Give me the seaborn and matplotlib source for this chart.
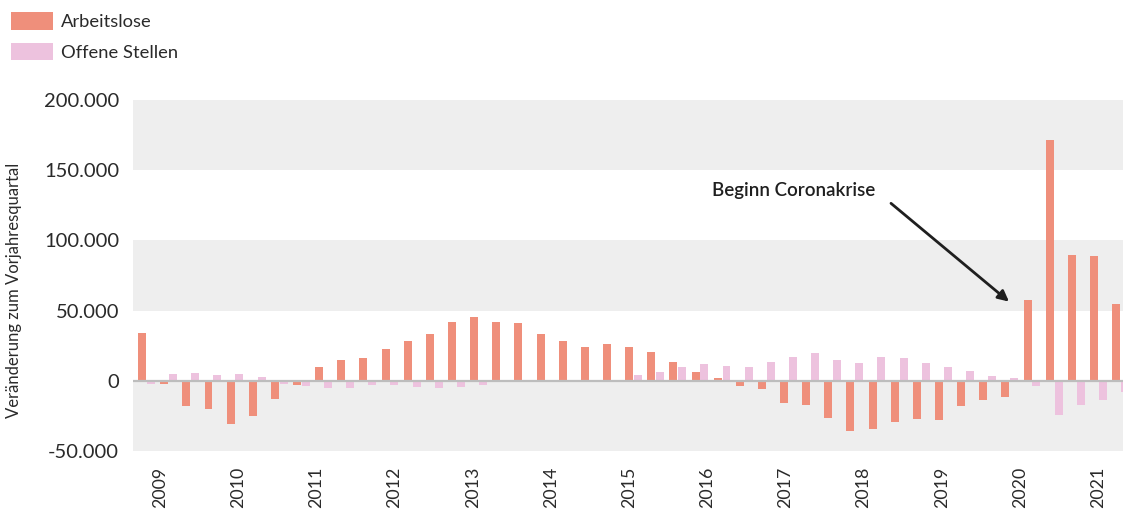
import matplotlib
matplotlib.use("Agg")
import matplotlib.pyplot as plt
from matplotlib.patches import Patch
import seaborn as sns
import pandas as pd
import numpy as np

# ---- data ----
series_names = ["Arbeitslose", "Offene Stellen"]
arbeitslose = [34300, -2000, -17900, -20000, -30700, -25000, -12900, -2900, 10000, 15000,
               16400, 22900, 28600, 33600, 42100, 45700, 42100, 41400, 33600, 28600,
               24300, 26400, 24300, 20700, 13600, 6400, 2100, -3600, -5700, -15700,
               -17100, -26400, -35900, -34300, -29300, -27100, -27900, -17900, -13600, -11400,
               57900, 171400, 89300, 88600, 55000]
offene_stellen = [-2100, 5000, 5700, 4300, 5000, 2900, -2100, -3600, -5000, -5000,
                  -2900, -2900, -4300, -5000, -4300, -2900, -500, 700, 0, 0,
                  0, 300, 4300, 6400, 10000, 12100, 10700, 10000, 13600, 17100,
                  20000, 15000, 13000, 17100, 16400, 12900, 10000, 7100, 3600, 2100,
                  -3600, -24300, -17100, -13600, -7900]
year_labels = ["2009", "2010", "2011", "2012", "2013", "2014", "2015", "2016",
               "2017", "2018", "2019", "2020", "2021"]
y_ticks = [-50000, 0, 50000, 100000, 150000, 200000]
y_ticklabels = ["-50.000", "0", "50.000", "100.000", "150.000", "200.000"]
annotation_text = "Beginn Coronakrise"

colors = {"Arbeitslose": "#EF8F7B", "Offene Stellen": "#EDC2DE"}
text_color = "#2a2a2a"

n = len(arbeitslose)
df = pd.DataFrame({
    "idx": list(range(n)) * 2,
    "serie": [series_names[0]] * n + [series_names[1]] * n,
    "wert": arbeitslose + offene_stellen,
})

sns.set_theme(style="white")
plt.rcParams["font.family"] = ["Lato", "DejaVu Sans"]

fig = plt.figure(figsize=(11.23, 5.12), dpi=100)
ax = fig.add_axes([133 / 1123, 61 / 512, 990 / 1123, 351 / 512])
ax.set_facecolor("white")

# background bands
for lo, hi in [(150000, 200000), (50000, 100000), (-50000, 0)]:
    ax.axhspan(lo, hi, color="#EEEEEE", zorder=0, lw=0)

sns.barplot(data=df, x="idx", y="wert", hue="serie", hue_order=series_names,
            palette=colors, width=0.8, gap=0.1, ax=ax, legend=False,
            saturation=1, zorder=2, linewidth=0)

ax.axhline(0, color="#BDBDBD", lw=1.6, zorder=3)

ax.set_ylim(-50000, 200000)
ax.set_xlim(-0.61, 44.11)

ax.set_yticks(y_ticks)
ax.set_yticklabels(y_ticklabels, fontsize=14.5, color=text_color)
tick_pos = [0.61 + 3.531 * k for k in range(len(year_labels))]
ax.set_xticks(tick_pos)
ax.set_xticklabels(year_labels, rotation=90, fontsize=12.8, color=text_color)
ax.tick_params(axis="y", length=0, pad=10)
ax.tick_params(axis="x", length=0, pad=11.5)
ax.set_xlabel("")
ax.set_ylabel("Veränderung zum Vorjahresquartal", fontsize=12, color=text_color)
ax.yaxis.set_label_coords(-0.112, 0.459)
for s in ax.spines.values():
    s.set_visible(False)
ax.grid(False)

# annotation
ax.annotate("", xy=(38.96, 56400), xytext=(33.63, 126400),
            arrowprops=dict(arrowstyle="-|>", color="#1f1f1f", lw=2,
                            mutation_scale=16, shrinkA=0, shrinkB=0), zorder=5)
ax.text(32.9, 135700, annotation_text, ha="right", va="center",
        fontsize=13.5, fontweight="semibold", color="#1f1f1f")

handles = [Patch(facecolor=colors[s], edgecolor="none", label=s) for s in series_names]
fig.legend(handles=handles, loc="upper left", bbox_to_anchor=(11 / 1123, 1 - 12 / 512),
           frameon=False, prop={"size": 13.2},
           handlelength=2.3, handleheight=1.1,
           handletextpad=0.45, labelspacing=0.7, borderpad=0, borderaxespad=0,
           labelcolor=text_color)

fig.savefig("out.png", dpi=100)
